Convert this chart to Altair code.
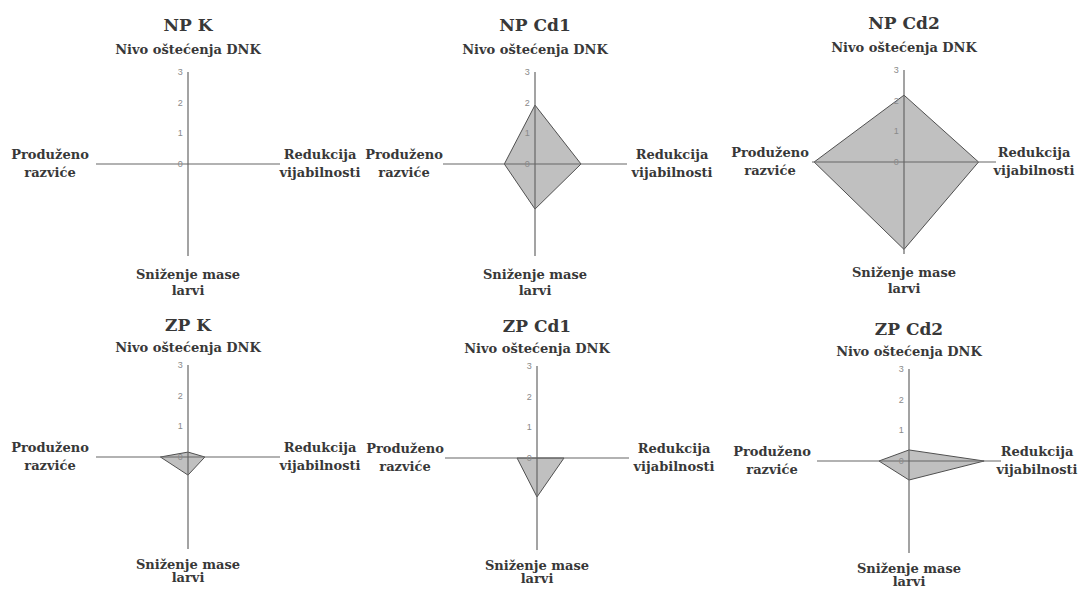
import altair as alt
import pandas as pd

# ---------------- data ----------------
panels = ["NP K", "NP Cd1", "NP Cd2", "ZP K", "ZP Cd1", "ZP Cd2"]
axis_top = "Nivo oštećenja DNK"
axis_right = ["Redukcija", "vijabilnosti"]
axis_bottom = ["Sniženje mase", "larvi"]
axis_left = ["Produženo", "razviće"]

dnk = [0.0, 1.92, 2.18, 0.16, 0.0, 0.36]          # top axis
vijabilnost = [0.0, 1.50, 2.43, 0.55, 0.88, 2.45]  # right axis
masa = [0.0, 1.47, 2.85, 0.59, 1.27, 0.62]         # bottom axis
razvice = [0.0, 1.00, 2.93, 0.90, 0.65, 0.98]      # left axis
ticks = [0, 1, 2, 3]
r_max = 3

# ---------------- layout (pixels) ----------------
S = 92 / 3.0  # px per unit
col_bounds = [(8, 362), (362, 724), (724, 1079)]
row_bounds = [(8, 292), (292, 584)]
centers = [(188, 164), (535, 164), (904, 162), (188, 457), (537, 458), (909, 461)]
title_dy = [138, 131]
nivo_dy = [114, 109]
sniz_dy = [-111, -108]
larvi_dy = [-127, -121]
left_dx = [138, 131, 134, 138, 132, 137]
right_dx = [132, 137, 130, 132, 137, 128]

FONT = "DejaVu Serif"
TXT = "#383838"


def panel(i):
    r, c = divmod(i, 3)
    xl, xr = col_bounds[c]
    yt, yb = row_bounds[r]
    cx, cy = centers[i]
    xs = alt.Scale(domain=[-(cx - xl) / S, (xr - cx) / S], nice=False, zero=False)
    ys = alt.Scale(domain=[-(yb - cy) / S, (cy - yt) / S], nice=False, zero=False)

    poly = pd.DataFrame({
        "x": [-razvice[i], 0.0, vijabilnost[i]],
        "y": [0.0, dnk[i], 0.0],
        "y2": [0.0, -masa[i], 0.0],
    })
    axes = pd.DataFrame({
        "x": [0, 0, 0, 0], "y": [0, 0, 0, 0],
        "x2": [0, r_max, 0, -r_max], "y2": [r_max, 0, -r_max, 0],
    })
    tick_df = pd.DataFrame({"x": [-0.17] * len(ticks), "y": ticks, "t": [str(t) for t in ticks]})
    titles = pd.DataFrame({"x": [0.0], "y": [title_dy[r] / S], "t": [panels[i]]})
    labels = pd.DataFrame({
        "x": [0.0, 0.0, 0.0,
              -left_dx[i] / S, -left_dx[i] / S,
              right_dx[i] / S, right_dx[i] / S],
        "y": [nivo_dy[r] / S, sniz_dy[r] / S, larvi_dy[r] / S,
              9 / S, -9 / S, 9 / S, -9 / S],
        "t": [axis_top, axis_bottom[0], axis_bottom[1],
              axis_left[0], axis_left[1], axis_right[0], axis_right[1]],
    })

    X = lambda f="x": alt.X(f"{f}:Q", scale=xs, axis=None)
    Y = lambda f="y": alt.Y(f"{f}:Q", scale=ys, axis=None)

    area = alt.Chart(poly).mark_area(
        fill="#c0c0c0", stroke="#505050", strokeWidth=1, opacity=1
    ).encode(x=X(), y=Y(), y2="y2:Q")
    rules = alt.Chart(axes).mark_rule(color="#666666", strokeWidth=1.2).encode(
        x=X(), y=Y(), x2="x2:Q", y2="y2:Q")
    tks = alt.Chart(tick_df).mark_text(
        align="right", baseline="middle", fontSize=9, font="Liberation Sans", color="#8a8a8a"
    ).encode(x=X(), y=Y(), text="t:N")
    ttl = alt.Chart(titles).mark_text(
        align="center", baseline="middle", fontSize=17, font=FONT, fontWeight="bold", color=TXT
    ).encode(x=X(), y=Y(), text="t:N")
    lbl = alt.Chart(labels).mark_text(
        align="center", baseline="middle", fontSize=13, font=FONT, fontWeight="bold", color=TXT
    ).encode(x=X(), y=Y(), text="t:N")

    return alt.layer(area, rules, tks, ttl, lbl).properties(width=xr - xl, height=yb - yt)


chart = alt.concat(*[panel(i) for i in range(6)], columns=3, spacing=0, bounds="flush").resolve_scale(
    x="independent", y="independent"
).properties(padding=0, background="white").configure_view(stroke=None)

chart.save("out.html", embed_options={"renderer": "svg", "actions": False})
